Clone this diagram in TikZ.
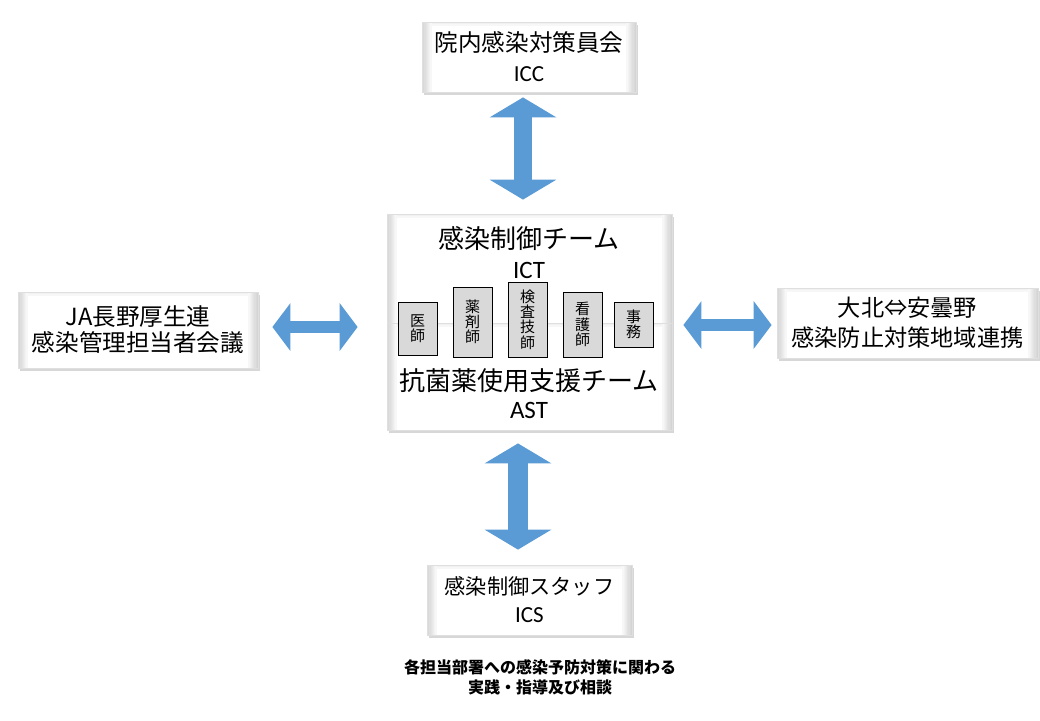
\documentclass[tikz,border=0pt]{standalone}
\usepackage{fontspec}
\setmainfont{Carlito}
\newfontfamily\jp{Noto Sans CJK JP}
\usetikzlibrary{positioning,arrows.meta,shadows}
\definecolor{arrowblue}{HTML}{5B9BD5}
\definecolor{rolegray}{HTML}{D9D9D9}

\tikzset{
  panel/.style={draw=gray!25, fill=white, inner sep=0pt, align=center,
    drop shadow={shadow xshift=1pt, shadow yshift=-1.5pt, fill=gray!70, opacity=.45},
    path picture={
      \foreach \k [evaluate=\k as \c using int(34-4*\k)] in {0,...,7}{
        \fill[gray!\c] ([xshift=\k*0.6pt]path picture bounding box.south west)
          rectangle ([xshift=\k*0.6pt+0.6pt]path picture bounding box.north west);
        \fill[gray!\c] ([xshift=-\k*0.6pt]path picture bounding box.south east)
          rectangle ([xshift=-\k*0.6pt-0.6pt]path picture bounding box.north east);
      }
      \foreach \k [evaluate=\k as \c using int(16-5*\k)] in {0,...,2}{
        \fill[gray!\c] ([xshift=4.8pt,yshift=-\k*0.6pt]path picture bounding box.north west)
          rectangle ([xshift=-4.8pt,yshift=-\k*0.6pt-0.6pt]path picture bounding box.north east);
      }
    }},
  role/.style={draw=black, fill=rolegray, minimum width=19.5pt, inner sep=1pt, align=center,
    font=\jp\fontsize{7.5}{7.6}\selectfont},
  vbar/.style={draw=arrowblue, line width=9pt,
    {Triangle[width=33pt,length=10pt]}-{Triangle[width=33pt,length=10pt]}},
  hbar/.style={draw=arrowblue, line width=6pt,
    {Triangle[width=23.5pt,length=9pt]}-{Triangle[width=23.5pt,length=9pt]}}
}

\begin{document}
\begin{tikzpicture}[x=0.5pt, y=-0.5pt]
    \useasboundingbox (0,0) rectangle (1040,720);

    % Committees
    \node[panel, minimum width=107pt, minimum height=35pt, font=\fontsize{11.8}{15}\selectfont]
        (icc) at (529,57) {{\jp 院内感染対策員会}\\{\fontsize{11.5}{15}\selectfont ICC}};
    \node[panel, minimum width=120pt, minimum height=38pt, font=\jp\fontsize{11.8}{13}\selectfont]
        (jakr) at (138,330) {JA長野厚生連\\感染管理担当者会議};
    \node[panel, minimum width=130.5pt, minimum height=35pt, font=\jp\fontsize{11.6}{15}\selectfont]
        (chiiki) at (907.5,323) {大北⇔安曇野\\感染防止対策地域連携};
    \node[panel, minimum width=102.5pt, minimum height=35pt, font=\fontsize{10.6}{14}\selectfont]
        (ics) at (529.5,600) {{\jp 感染制御スタッフ}\\{\fontsize{11.5}{14}\selectfont ICS}};

    % Centre teams
    \node[panel, minimum width=142.5pt, minimum height=54.5pt] (ict) at (529.5,268.5) {};
    \node[panel, minimum width=142.5pt, minimum height=53.5pt] (ast) at (529.5,376.5) {};
    \node[align=center, font=\fontsize{13}{15}\selectfont] (ictname) at (529,253)
        {{\jp 感染制御チーム}\\{\fontsize{12.5}{15}\selectfont ICT}};
    \node[align=center, font=\fontsize{13}{14}\selectfont] (astname) at (529,394)
        {{\jp 抗菌薬使用支援チーム}\\{\fontsize{12.5}{14}\selectfont AST}};

    % Members
    \node[role, minimum height=26.5pt] (ishi) at (417.5,328.5) {医\\師};
    \node[role, minimum height=35pt] (yakuzai) at (472.5,322) {薬\\剤\\師};
    \node[role, minimum height=37.5pt] (kensa) at (527.5,319.5) {検\\査\\技\\師};
    \node[role, minimum height=32.5pt] (kango) at (582.5,324.5) {看\\護\\師};
    \node[role, minimum height=22.5pt] (jimu) at (633.5,324.5) {事\\務};

    % Links
    \draw[vbar, shorten <=2.5pt, shorten >=7pt]
        ([xshift=-3pt]icc.south) -- ([xshift=-3pt]icc.south |- ict.north);
    \draw[vbar, line width=10pt, shorten <=6.5pt, shorten >=7.5pt]
        ([xshift=-5.75pt]ast.south) -- ([xshift=-5.75pt]ast.south |- ics.north);
    \draw[hbar, shorten <=7pt, shorten >=14.5pt]
        ([yshift=1.5pt]jakr.east) -- ([yshift=1.5pt]jakr.east -| ict.west);
    \draw[hbar, shorten <=5.5pt, shorten >=2.5pt]
        ([yshift=-1pt]chiiki.west -| ict.east) -- ([yshift=-1pt]chiiki.west);

    % Note
    \node[align=center, font=\jp\bfseries\fontsize{8}{10}\selectfont] (note) at (540,677)
        {各担当部署への感染予防対策に関わる\\実践・指導及び相談};
\end{tikzpicture}
\end{document}
